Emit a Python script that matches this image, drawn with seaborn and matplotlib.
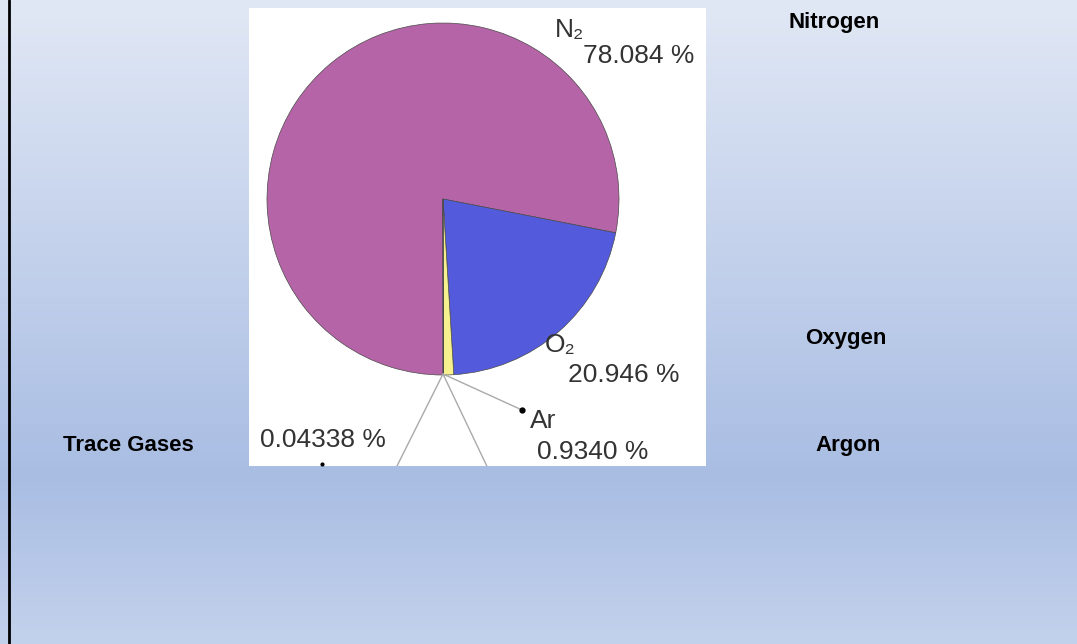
import numpy as np
import seaborn as sns
import matplotlib.pyplot as plt
from matplotlib.colors import LinearSegmentedColormap
from matplotlib.patches import Rectangle

# composition of dry air (percent by volume)
gases = ["N\u2082", "O\u2082", "Ar", "Trace"]
shares = [78.084, 20.946, 0.9340, 0.04338]
share_labels = ["78.084 %", "20.946 %", "0.9340 %", "0.04338 %"]
slide_names = ["Nitrogen", "Oxygen", "Argon", "Trace Gases"]
colors = ["#b565a7", "#535bdc", "#f6f08e", "#ffffff"]

sns.set_theme(style="white")
plt.rcParams["font.family"] = ["Liberation Sans", "DejaVu Sans"]

W, H = 1077, 644
fig = plt.figure(figsize=(W / 100, H / 100), dpi=100)

# slide background gradient
bg = fig.add_axes([0, 0, 1, 1])
grad = np.linspace(0, 1, 256).reshape(-1, 1)
cmap = LinearSegmentedColormap.from_list(
    "slide", [(0, "#e1e8f5"), (0.74, "#a9bde3"), (1, "#c3d2ec")])
bg.imshow(grad, aspect="auto", cmap=cmap, extent=[0, W, H, 0])
bg.set_xlim(0, W)
bg.set_ylim(H, 0)
bg.axis("off")
bg.plot([9, 9], [0, H], color="black", lw=2)

# embedded pie picture
x0, x1, y0, y1 = 249, 706, 8, 466
cx, cy, r = 443, 199, 176
bg.add_patch(Rectangle((x0, y0), x1 - x0, y1 - y0, facecolor="white",
                       edgecolor="none", zorder=2))
ax = fig.add_axes([x0 / W, 1 - y1 / H, (x1 - x0) / W, (y1 - y0) / H])
ax.patch.set_alpha(0)
ax.pie(shares, colors=colors, startangle=-90, counterclock=False,
       wedgeprops=dict(edgecolor="#4a4a4a", linewidth=0.5))
ax.set_aspect("auto")
ax.set_xlim((x0 - cx) / r, (x1 - cx) / r)
ax.set_ylim(-(y1 - cy) / r, (cy - y0) / r)


def px(x, y):
    return (x - cx) / r, (cy - y) / r


tkw = dict(fontsize=19, color="#333333", va="center", ha="left")
ax.text(*px(555, 30), gases[0], **tkw)
ax.text(*px(583, 56), share_labels[0], **tkw)
ax.text(*px(545, 345), gases[1], **tkw)
ax.text(*px(568, 375), share_labels[1], **tkw)
ax.text(*px(530, 421), gases[2], **tkw)
ax.text(*px(537, 452), share_labels[2], **tkw)
ax.text(*px(260, 440), share_labels[3], **tkw)

# leader lines from the bottom of the pie
apex = px(443, 374)
for end in [px(522, 410), px(380, 500), px(503, 500)]:
    ax.plot([apex[0], end[0]], [apex[1], end[1]], color="#aaaaaa", lw=1)
ax.plot(*px(522, 410), "o", color="black", ms=3.5)
ax.plot(*px(322, 464), "o", color="black", ms=2)

# slide labels
lkw = dict(fontsize=16, fontweight="bold", color="black", ha="center",
           va="center", family=["Liberation Sans Narrow", "Liberation Sans"])
bg.text(834, 22, slide_names[0], **lkw)
bg.text(846, 338, slide_names[1], **lkw)
bg.text(848, 445, slide_names[2], **lkw)
bg.text(128, 445, slide_names[3], **lkw)

fig.savefig("out.png", dpi=100)
